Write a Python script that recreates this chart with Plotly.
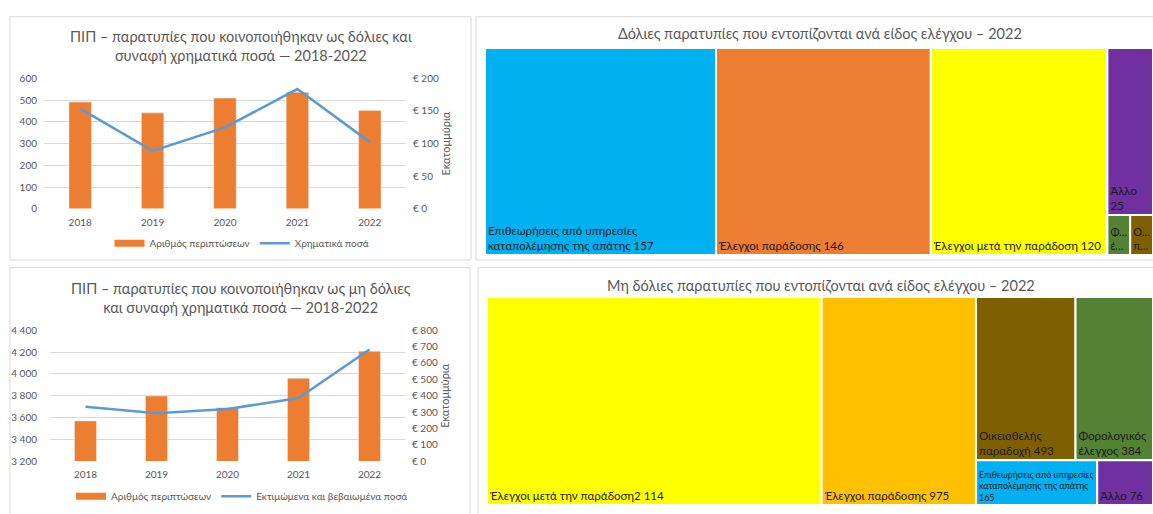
import plotly.graph_objects as go

W, H = 1153, 514

# ---------------- data ----------------
years = ["2018", "2019", "2020", "2021", "2022"]
fraud_cases = [491, 441, 509, 536, 452]
fraud_amounts = [153.6, 88.8, 124.7, 183.5, 102.2]
nonfraud_cases = [3569, 3797, 3689, 3959, 4207]
nonfraud_amounts = [332, 292, 318, 386, 682]

tm1_labels = ["Επιθεωρήσεις από υπηρεσίες<br>καταπολέμησης της απάτης",
              "Έλεγχοι παράδοσης", "Έλεγχοι μετά την παράδοση",
              "Άλλο", "Φορολογικός έλεγχος", "Οικειοθελής παραδοχή"]
tm1_values = [157, 146, 120, 25, 3, 3]
tm1_colors = ["#00B0F0", "#ED7D31", "#FFFF00", "#7030A0", "#548235", "#7F6000"]
tm1_seps = [" ", " ", " ", "<br>", " ", " "]

tm2_labels = ["Έλεγχοι μετά την παράδοση", "Έλεγχοι παράδοσης",
              "Οικειοθελής<br>παραδοχή", "Φορολογικός<br>έλεγχος",
              "Επιθεωρήσεις από υπηρεσίες<br>καταπολέμησης της απάτης", "Άλλο"]
tm2_values = [2114, 975, 493, 384, 165, 76]
tm2_colors = ["#FFFF00", "#FFC000", "#7F6000", "#548235", "#00B0F0", "#7030A0"]
tm2_seps = ["", " ", " ", " ", "<br>", " "]

# nesting of the treemap cells (column / row grouping as in the original)
tm1_groups = [None, None, None, ("G", "G1"), ("G", "G2"), ("G", "G2")]
tm2_groups = [None, None, ("G", "G1"), ("G", "G1"), ("G", "G2"), ("G", "G2")]

BAR = "#ED7D31"
LINE = "#5B9BD5"
GREY = "#595959"
GRID = "#D9D9D9"
FONT = "Lato, Open Sans, sans-serif"


def px(x):
    return x / W


def py(y):
    return 1 - y / H


def cell_text(label, value, sep, small):
    vs = f"{value:,}".replace(",", " ")
    if small:
        words = label.replace("<br>", " ").split()
        return "<br>".join(w[0] + "…" for w in words[:2])
    return f"{label}{sep}{vs}"


def build_tree(labels, values, colors, seps, groups):
    total = sum(values)
    ids, parents, vals, cols, texts = ["root"], [""], [total], ["white"], [""]
    gsum = {}
    for v, g in zip(values, groups):
        if g:
            gsum[g[0]] = gsum.get(g[0], 0) + v
            gsum[g[1]] = gsum.get(g[1], 0) + v
    added = set()
    for i, (l, v, c, s, g) in enumerate(zip(labels, values, colors, seps, groups)):
        if g:
            if g[0] not in added:
                ids.append(g[0]); parents.append("root"); vals.append(gsum[g[0]])
                cols.append("white"); texts.append(""); added.add(g[0])
            if g[1] not in added:
                ids.append(g[1]); parents.append(g[0]); vals.append(gsum[g[1]])
                cols.append("white"); texts.append(""); added.add(g[1])
        ids.append("n%d" % i)
        parents.append(g[1] if g else "root")
        vals.append(v)
        cols.append(c)
        texts.append(cell_text(l, v, s, v / total < 0.01))
    return ids, parents, vals, cols, texts


fig = go.Figure()

# ---------------- panel frames ----------------
panels = [(10, 11, 471, 260), (10, 268, 470, 530), (476, 11, 1170, 260), (478, 268, 1170, 530)]
for x0, y0, x1, y1 in panels:
    fig.add_shape(type="rect", xref="paper", yref="paper",
                  x0=px(x0), x1=px(x1), y0=py(y1), y1=py(y0),
                  line=dict(color=GRID, width=1), fillcolor="white", layer="below")

# ---------------- chart 1 ----------------
fig.add_trace(go.Bar(x=years, y=fraud_cases, name="Αριθμός περιπτώσεων", showlegend=False,
                     marker=dict(color=BAR), xaxis="x", yaxis="y"))
fig.add_trace(go.Scatter(x=[None], y=[None], name="Αριθμός περιπτώσεων", mode="lines",
                         line=dict(color=BAR, width=7), xaxis="x", yaxis="y", legend="legend"))
fig.add_trace(go.Scatter(x=years, y=fraud_amounts, name="Χρηματικά ποσά", mode="lines",
                         line=dict(color=LINE, width=2.5), xaxis="x", yaxis="y2", legend="legend"))

# ---------------- chart 2 ----------------
fig.add_trace(go.Bar(x=years, y=nonfraud_cases, name="Αριθμός περιπτώσεων", showlegend=False,
                     marker=dict(color=BAR), xaxis="x2", yaxis="y3"))
fig.add_trace(go.Scatter(x=[None], y=[None], name="Αριθμός περιπτώσεων", mode="lines",
                         line=dict(color=BAR, width=7), xaxis="x2", yaxis="y3", legend="legend2"))
fig.add_trace(go.Scatter(x=years, y=nonfraud_amounts, name="Εκτιμώμενα και βεβαιωμένα ποσά",
                         mode="lines", line=dict(color=LINE, width=2.5),
                         xaxis="x2", yaxis="y4", legend="legend2"))

# ---------------- treemaps ----------------
for (labels, values, colors, seps, groups, dom) in [
    (tm1_labels, tm1_values, tm1_colors, tm1_seps, tm1_groups,
     dict(x=[px(485), 1], y=[py(255), py(43)])),
    (tm2_labels, tm2_values, tm2_colors, tm2_seps, tm2_groups,
     dict(x=[px(487), 1], y=[py(511), py(298)])),
]:
    ids, parents, vals, cols, texts = build_tree(labels, values, colors, seps, groups)
    fig.add_trace(go.Treemap(
        ids=ids, parents=parents, values=vals, labels=ids, text=texts,
        branchvalues="total", texttemplate="%{text}", textposition="bottom left",
        textfont=dict(family=FONT, size=11.5, color="#1a1a1a"),
        marker=dict(colors=cols, line=dict(color="white", width=2),
                    pad=dict(t=0, l=0, r=0, b=0)),
        tiling=dict(packing="slice-dice", pad=0),
        pathbar=dict(visible=False), root=dict(color="white"),
        domain=dom, hoverinfo="skip", sort=False,
    ))

axis_font = dict(family=FONT, size=10, color=GREY)
ytitle = dict(text="Εκατομμύρια", font=dict(family=FONT, size=11, color=GREY), standoff=4)

fig.update_layout(
    width=W, height=H, margin=dict(l=0, r=0, t=0, b=0),
    paper_bgcolor="white", plot_bgcolor="rgba(0,0,0,0)",
    font=dict(family=FONT, color=GREY),
    separators=", ",
    bargap=0.69,
    showlegend=True,
    xaxis=dict(domain=[px(44), px(406)], anchor="y", type="category", tickfont=axis_font,
               showgrid=False, showline=False, ticks="", ticklabelstandoff=6),
    yaxis=dict(domain=[py(207.7), py(74)], range=[0, 600], dtick=100, tickfont=axis_font,
               gridcolor=GRID, zeroline=False, showline=False, ticks="", ticklabelstandoff=6),
    yaxis2=dict(overlaying="y", side="right", anchor="x", range=[0, 200], dtick=50,
                tickprefix="€ ", tickfont=axis_font, showgrid=False, zeroline=False,
                ticks="", ticklabelstandoff=6, title=ytitle),
    xaxis2=dict(domain=[px(50), px(405)], anchor="y3", type="category", tickfont=axis_font,
                showgrid=False, showline=False, ticks="", ticklabelstandoff=6),
    yaxis3=dict(domain=[py(466), py(332)], range=[3200, 4400], dtick=200, tickfont=axis_font,
                gridcolor=GRID, zeroline=False, showline=False, ticks="",
                separatethousands=True, ticklabelstandoff=6),
    yaxis4=dict(overlaying="y3", side="right", anchor="x2", range=[0, 800], dtick=100,
                tickprefix="€ ", tickfont=axis_font, showgrid=False, zeroline=False,
                ticks="", ticklabelstandoff=6, title=ytitle),
    legend=dict(orientation="h", x=px(242), y=py(243), xanchor="center", yanchor="middle",
                font=dict(family=FONT, size=10, color=GREY), bgcolor="rgba(0,0,0,0)",
                itemwidth=30, tracegroupgap=0),
    legend2=dict(orientation="h", x=px(242), y=py(502), xanchor="center", yanchor="middle",
                 font=dict(family=FONT, size=10, color=GREY), bgcolor="rgba(0,0,0,0)",
                 itemwidth=30, tracegroupgap=0),
)

annots = [
    (241, 41, "ΠΙΠ – παρατυπίες που κοινοποιήθηκαν ως δόλιες και<br>συναφή χρηματικά ποσά — 2018-2022"),
    (241, 299, "ΠΙΠ – παρατυπίες που κοινοποιήθηκαν ως μη δόλιες<br>και συναφή χρηματικά ποσά — 2018-2022"),
    (820, 28, "Δόλιες παρατυπίες που εντοπίζονται ανά είδος ελέγχου – 2022"),
    (821, 286, "Μη δόλιες παρατυπίες που εντοπίζονται ανά είδος ελέγχου – 2022"),
]
for x, y, t in annots:
    fig.add_annotation(xref="paper", yref="paper", x=px(x), y=py(y), text=t, showarrow=False,
                       xanchor="center", yanchor="middle", align="center",
                       font=dict(family=FONT, size=14.5, color=GREY))

post = ("document.documentElement.style.margin='0';document.body.style.margin='0';"
        "document.body.style.padding='0';document.documentElement.style.overflow='hidden';"
        "document.body.style.overflow='hidden';"
        "var d=document.getElementById('{plot_id}');d.style.position='absolute';"
        "d.style.left='0px';d.style.top='0px';")
fig.write_html("out.html", post_script=post, config={"displayModeBar": False})
